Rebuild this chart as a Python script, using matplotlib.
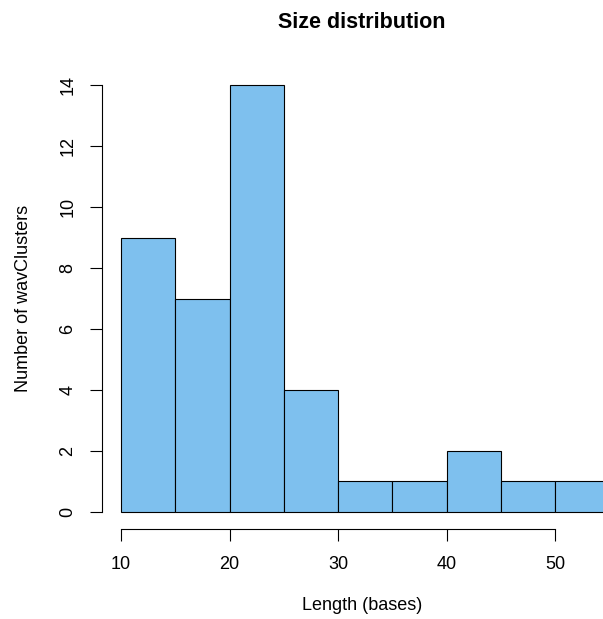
import matplotlib
matplotlib.use('Agg')
import matplotlib.pyplot as plt
import numpy as np

plt.rcParams['font.family'] = ['Liberation Sans', 'DejaVu Sans']

# histogram breaks and counts
breaks = [10, 15, 20, 25, 30, 35, 40, 45, 50, 55]
counts = [9, 7, 14, 4, 1, 1, 2, 1, 1]
xticks = [10, 20, 30, 40, 50]
yticks = [0, 2, 4, 6, 8, 10, 12, 14]

W, H = 603, 619
fig = plt.figure(figsize=(W / 100, H / 100), dpi=100)
# plot region (R style, 4% extension, cropped at right)
ax = fig.add_axes([101.5 / W, 90 / H, 1 - 101.5 / W, 461 / H])

left = np.array(breaks[:-1])
ax.bar(left, counts, width=np.diff(breaks), align='edge',
       color='#7EC0EE', edgecolor='black', linewidth=0.8)

ax.set_xlim(8.2, 8.2 + (W - 101.5) / 10.85)
ax.set_ylim(-0.56, 14.56)

for s in ['top', 'right']:
    ax.spines[s].set_visible(False)
ax.spines['left'].set_bounds(0, 14)
ax.spines['bottom'].set_bounds(10, 50)
ax.spines['left'].set_linewidth(0.8)
ax.spines['bottom'].set_linewidth(0.8)

ax.set_xticks(xticks)
ax.set_yticks(yticks)
ax.tick_params(axis='both', length=8.6, width=0.8, labelsize=13)
ax.tick_params(axis='x', pad=10.5)
ax.tick_params(axis='y', pad=9.5)
for lab in ax.get_yticklabels():
    lab.set_rotation(90)
    lab.set_va('center')

fig.text(362 / W, 1 - 22 / H, 'Size distribution', ha='center', va='center',
         fontsize=15.5, fontweight='bold')
fig.text(362 / W, 1 - 606 / H, 'Length (bases)', ha='center', va='center',
         fontsize=13)
fig.text(24 / W, 1 - 298 / H, 'Number of wavClusters', ha='center',
         va='center', rotation=90, fontsize=13)

fig.savefig('out.png', dpi=100)
